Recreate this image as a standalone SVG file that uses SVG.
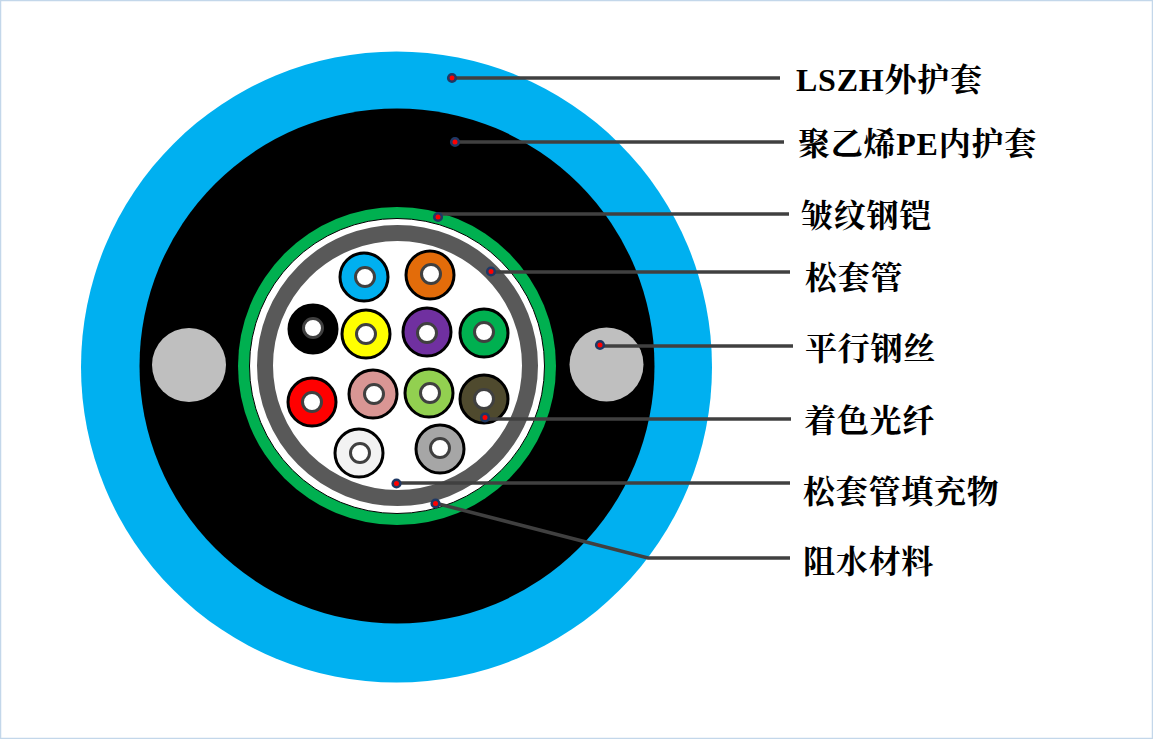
<svg xmlns="http://www.w3.org/2000/svg" width="1153" height="739" viewBox="0 0 1153 739">
<defs>
<style>
.bg{fill:#fff;stroke:#c3d7ea;stroke-width:1.5}
.fib{stroke:#000;stroke-width:3}
.core{fill:#fff;stroke:#404040;stroke-width:3}
.steel{fill:#bfbfbf}
.ln{fill:none;stroke:#404040;stroke-width:3.5}
.dot{fill:#ff0000;stroke:#1f3864;stroke-width:2.6}
text{font-family:"Liberation Serif","Noto Serif CJK SC","Noto Sans CJK SC",serif;font-weight:700;font-size:32px;letter-spacing:.75px;fill:#000}
</style>
</defs>
<rect class="bg" x="0.5" y="0.5" width="1152" height="738"/>
<g id="cable">
<circle id="outer-sheath" cx="396.5" cy="367" r="315.5" fill="#00b0f0"/>
<circle id="inner-sheath" cx="397" cy="366" r="257.5" fill="#000"/>
<circle id="armor" cx="397" cy="366" r="159" fill="#00b050"/>
<circle id="water-block" cx="397" cy="366" r="147.5" fill="#fff" stroke="#000" stroke-width="1"/>
<circle id="tube" cx="397.5" cy="365.5" r="132.5" fill="#fff" stroke="#595959" stroke-width="16"/>
</g>
<g id="steel-wires">
<circle class="steel" cx="189" cy="365" r="37"/>
<circle class="steel" cx="606.5" cy="364.5" r="37"/>
</g>
<g id="fibers">
<g id="f1"><circle class="fib" cx="364" cy="277" r="24" fill="#00b0f0"/><circle class="core" cx="365" cy="277" r="9.5"/></g>
<g id="f2"><circle class="fib" cx="430" cy="275" r="24" fill="#e36c0a"/><circle class="core" cx="431" cy="274" r="9.5"/></g>
<g id="f3"><circle class="fib" cx="313" cy="329" r="24" fill="#000"/><circle class="core" cx="313" cy="328" r="9.5"/></g>
<g id="f4"><circle class="fib" cx="366" cy="334" r="24" fill="#ffff00"/><circle class="core" cx="366" cy="334" r="9.5"/></g>
<g id="f5"><circle class="fib" cx="427" cy="332" r="24" fill="#7030a0"/><circle class="core" cx="427" cy="333" r="9.5"/></g>
<g id="f6"><circle class="fib" cx="484" cy="333" r="24" fill="#00b050"/><circle class="core" cx="484" cy="332" r="9.5"/></g>
<g id="f7"><circle class="fib" cx="312" cy="402" r="24" fill="#ff0000"/><circle class="core" cx="312" cy="402" r="9.5"/></g>
<g id="f8"><circle class="fib" cx="373" cy="394" r="24" fill="#d99694"/><circle class="core" cx="374" cy="394" r="9.5"/></g>
<g id="f9"><circle class="fib" cx="429" cy="393" r="24" fill="#92d050"/><circle class="core" cx="430" cy="393" r="9.5"/></g>
<g id="f10"><circle class="fib" cx="484" cy="399" r="24" fill="#4f4a2e"/><circle class="core" cx="484" cy="399" r="9.5"/></g>
<g id="f11"><circle class="fib" cx="359" cy="453" r="24" fill="#f2f2f2"/><circle class="core" cx="360" cy="453" r="9.5"/></g>
<g id="f12"><circle class="fib" cx="440" cy="449" r="24" fill="#a6a6a6"/><circle class="core" cx="440" cy="448" r="9.5"/></g>
</g>
<g id="connectors">
<path class="ln" d="M452 78H780"/>
<path class="ln" d="M455 142H784"/>
<path class="ln" d="M438 214H789"/>
<path class="ln" d="M491 272H790"/>
<path class="ln" d="M600 346H793"/>
<path class="ln" d="M485 419H791"/>
<path class="ln" d="M396 483H790"/>
<path class="ln" d="M435 503L648 558H790"/>
<circle class="dot" cx="452" cy="78" r="3.8"/>
<circle class="dot" cx="455" cy="142" r="3.8"/>
<circle class="dot" cx="438" cy="217" r="3.8"/>
<circle class="dot" cx="491" cy="271.500" r="3.8"/>
<circle class="dot" cx="600" cy="345" r="3.8"/>
<circle class="dot" cx="485" cy="417.500" r="3.8"/>
<circle class="dot" cx="396.500" cy="483.500" r="3.8"/>
<circle class="dot" cx="435.500" cy="503.500" r="3.8"/>
</g>
<g id="labels">
<text id="l1" x="796" y="91">LSZH外护套</text>
<text id="l2" x="798" y="155">聚乙烯PE内护套</text>
<text id="l3" x="801" y="227">皱纹钢铠</text>
<text id="l4" x="805" y="289">松套管</text>
<text id="l5" x="805" y="360">平行钢丝</text>
<text id="l6" x="804" y="432">着色光纤</text>
<text id="l7" x="803" y="503">松套管填充物</text>
<text id="l8" x="803" y="573">阻水材料</text>
</g>
</svg>
